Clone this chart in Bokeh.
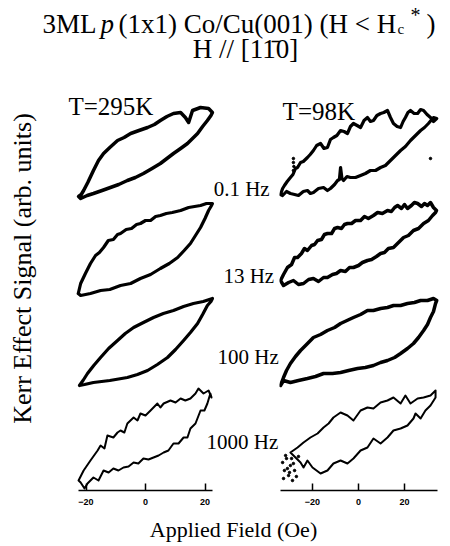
import math
from bokeh.plotting import figure
from bokeh.models import Range1d, FixedTicker, Label
from bokeh.layouts import column, row
from bokeh.embed import file_html
from bokeh.resources import INLINE

# ---------------- data (H in Oe, signal in arb. units, relative to each loop's row) -------------
TICKS = [-20, 0, 20]
FREQS = ["0.1 Hz", "13 Hz", "100 Hz", "1000 Hz"]
ROW_OFFSET = [33.5, 24.5, 15.0, 5.3]

# T = 295 K
L1_up_H = [-22.5,-21.6,-20.8,-19.4,-17.5,-15.8,-14.1,-12.0,-9.4,-7.2,-5.0,-2.2,0.7,3.0,5.0,7.2,9.4,11.8,13.4,14.5,15.8,18.5,21.2,22.5]
L1_up_M = [-4.1,-3.9,-3.5,-2.7,-1.5,-0.5,0.2,0.8,1.5,1.8,2.2,2.5,2.8,3.1,3.5,3.9,4.2,4.3,3.8,3.3,4.5,4.8,4.7,4.3]
L1_dn_H = [-22.5,-21.8,-19.6,-17.5,-14.6,-11.8,-9.0,-6.1,-3.4,-0.7,2.2,5.0,7.2,9.4,11.8,14.1,15.8,17.5,19.2,20.8,22.0,22.5]
L1_dn_M = [-4.1,-4.3,-4.0,-3.8,-3.5,-3.2,-2.9,-2.5,-2.2,-1.8,-1.3,-0.8,-0.3,0.2,0.7,1.2,1.7,2.2,2.9,3.5,4.0,4.3]

L2_up_H = [-22.6,-21.8,-20.2,-18.5,-16.8,-15.5,-14.1,-12.5,-10.8,-9.4,-8.4,-6.5,-4.7,-3.0,-1.7,0.0,1.7,3.4,5.0,7.0,9.0,11.8,14.5,16.5,18.5,20.5,22.5]
L2_up_M = [-4.8,-3.8,-2.8,-1.8,-1.0,-0.7,-0.2,0.5,0.6,1.1,1.2,1.6,1.7,2.1,2.2,2.5,2.5,2.9,3.0,3.2,3.3,3.5,3.8,3.9,4.0,4.2,4.2]
L2_dn_H = [-22.6,-21.8,-18.5,-15.1,-12.0,-8.4,-5.0,-1.7,1.7,5.0,8.0,10.8,13.0,15.1,16.8,18.5,20.0,21.2,22.0,22.5]
L2_dn_M = [-4.8,-5.0,-4.8,-4.5,-4.4,-4.0,-3.8,-3.3,-2.9,-2.3,-1.8,-1.2,-0.5,0.2,1.0,1.8,2.7,3.5,3.9,4.2]

L3_up_H = [-22.2,-21.0,-19.5,-17.4,-15.1,-12.4,-9.4,-6.8,-4.0,-0.7,2.7,6.0,9.4,12.8,16.1,19.4,22.5]
L3_up_M = [-4.5,-4.0,-3.3,-2.5,-1.7,-0.8,0.0,0.7,1.3,1.8,2.3,2.7,3.0,3.4,3.7,3.9,4.2]
L3_dn_H = [-22.2,-20.5,-17.5,-12.0,-6.1,-2.7,0.7,4.0,7.4,10.1,12.8,15.1,17.5,19.2,20.8,22.0,22.5]
L3_dn_M = [-4.5,-4.4,-4.2,-4.0,-3.7,-3.4,-3.0,-2.4,-1.7,-0.9,0.0,0.8,1.7,2.6,3.5,3.9,4.2]

L4_up_H = [-22.5,-20.8,-18.5,-16.1,-15.1,-13.8,-12.8,-10.8,-9.4,-8.4,-7.1,-6.1,-4.0,-2.7,-1.7,0.0,1.7,4.0,5.0,6.1,8.4,10.1,11.8,13.4,15.1,16.8,17.8,19.5,21.2,22.2]
L4_up_M = [-4.3,-3.3,-2.3,-1.3,-0.8,-1.1,0.2,0.0,0.5,0.7,0.5,1.4,2.0,1.7,2.4,2.2,2.7,3.4,3.0,3.4,3.7,3.5,3.9,3.7,3.9,4.4,4.9,4.4,4.7,4.0]
L4_dn_H = [-21.8,-20.5,-19.5,-17.5,-15.8,-14.1,-12.4,-10.8,-9.1,-7.4,-5.7,-4.0,-2.4,-0.7,1.0,2.7,4.4,6.1,7.7,9.4,11.1,12.8,14.1,15.1,16.8,18.5,19.8,20.8,21.8]
L4_dn_M = [-4.5,-5.1,-4.6,-4.0,-4.3,-3.3,-3.5,-3.1,-3.3,-3.0,-2.9,-2.5,-2.6,-2.1,-2.2,-2.0,-1.8,-1.5,-1.3,-0.6,-0.6,0.0,0.0,0.9,1.4,2.7,2.7,3.4,4.4]

# T = 98 K
R1_up_H = [-33.9,-33.0,-32.2,-31.0,-29.6,-28.5,-27.4,-26.5,-25.2,-24.0,-22.2,-21.0,-19.6,-18.2,-16.5,-15.0,-13.5,-12.2,-10.9,-9.4,-7.8,-6.3,-4.8,-3.5,-2.2,-0.6,0.9,2.4,3.9,5.2,6.5,8.0,9.6,11.0,12.6,13.9,15.2,16.8,18.3,19.4,20.4,21.5,22.6,24.2,25.7,27.0,28.3,29.8,31.3,32.6,34.0]
R1_up_M = [-3.9,-3.3,-3.0,-2.6,-2.2,-1.9,-1.3,-1.2,-0.7,-0.6,-0.2,0.1,0.5,1.0,1.2,0.7,0.8,1.6,1.8,2.0,2.5,2.4,2.2,2.9,3.2,3.0,2.8,3.5,3.8,3.4,3.5,4.0,4.2,4.3,4.5,3.8,3.2,2.9,2.8,3.4,3.8,4.3,4.5,4.2,4.2,4.6,4.5,4.1,3.8,3.4,3.7]
R1_dn_H = [-33.9,-33.0,-31.3,-29.6,-27.8,-26.1,-24.0,-22.2,-20.9,-19.6,-17.4,-15.2,-13.5,-12.2,-10.4,-9.1,-8.3,-7.8,-7.2,-6.5,-5.0,-3.5,-1.3,0.9,3.0,5.2,7.4,9.6,11.7,13.9,16.1,18.3,20.4,22.6,24.8,27.0,28.7,30.4,32.6,34.0]
R1_dn_M = [-3.9,-4.0,-3.6,-3.8,-3.9,-4.0,-3.6,-3.5,-3.8,-3.7,-3.3,-3.2,-3.5,-3.3,-2.9,-2.5,-2.4,-1.2,-2.3,-2.5,-2.1,-2.2,-2.2,-2.0,-1.8,-1.5,-1.5,-1.2,-1.0,-0.5,0.0,0.5,0.9,1.5,2.0,2.5,2.8,3.2,3.8,3.7]
R1_pts_H = [-28.3,-28.3,-28.1,-28.3,31.3]
R1_pts_M = [-0.3,-0.7,-1.1,-1.5,-0.3]

R2_up_H = [-33.9,-32.6,-30.9,-29.1,-27.8,-26.5,-24.8,-23.5,-22.2,-20.4,-19.1,-17.8,-16.1,-14.8,-13.5,-11.7,-10.4,-9.1,-7.4,-6.1,-4.8,-3.0,-1.3,0.9,2.6,4.3,6.5,8.3,10.4,12.6,14.3,15.7,17.0,18.7,20.0,21.3,23.0,24.3,25.7,27.4,28.7,30.0,31.3,32.6,33.9]
R2_up_M = [-3.5,-2.9,-2.2,-1.9,-1.2,-1.2,-0.8,-0.3,-0.5,0.0,0.1,0.5,0.6,1.1,1.2,1.2,1.7,1.8,1.7,2.1,2.2,2.2,2.5,2.5,2.9,2.7,3.0,3.3,3.2,3.5,3.4,3.8,4.0,3.7,4.1,3.7,4.0,4.3,4.2,3.9,4.2,4.0,4.3,3.8,3.5]
R2_dn_H = [-33.9,-32.6,-30.4,-28.3,-26.1,-23.9,-21.7,-19.6,-17.4,-15.2,-13.5,-11.3,-9.6,-7.8,-5.7,-3.9,-2.2,0.0,1.7,3.9,5.7,7.8,9.6,11.3,13.0,15.2,17.4,19.6,21.7,23.9,26.1,28.3,30.4,32.2,33.5,33.9]
R2_dn_M = [-3.5,-4.0,-3.7,-3.5,-3.9,-3.8,-3.4,-3.3,-3.6,-3.2,-3.2,-2.9,-2.8,-2.5,-2.6,-2.2,-2.2,-2.0,-1.7,-1.5,-1.4,-1.1,-0.8,-0.7,-0.3,-0.2,0.3,0.8,1.0,1.5,1.7,2.2,2.5,3.0,3.3,3.5]

R3_up_H = [-33.9,-32.6,-31.3,-29.6,-27.4,-25.2,-22.6,-19.6,-16.5,-13.5,-10.4,-7.8,-5.0,-2.2,0.9,3.9,6.5,9.6,12.6,15.2,18.3,21.3,24.3,27.0,30.0,32.6,34.0]
R3_up_M = [-4.5,-3.7,-3.0,-2.3,-1.6,-1.0,-0.4,0.3,0.6,1.0,1.3,1.7,2.0,2.3,2.6,3.0,3.0,3.2,3.3,3.5,3.5,3.7,3.8,4.0,4.0,4.2,4.0]
R3_dn_H = [-33.9,-32.6,-29.6,-26.1,-22.2,-18.7,-15.2,-11.3,-7.8,-4.3,-0.4,3.0,6.5,9.6,12.6,15.7,18.3,21.3,23.9,26.1,28.3,30.0,31.3,32.6,33.5,34.0]
R3_dn_M = [-4.5,-4.0,-4.2,-4.0,-3.8,-3.6,-3.3,-3.3,-3.2,-3.0,-2.8,-2.7,-2.5,-2.2,-2.0,-1.7,-1.3,-0.8,-0.3,0.3,1.0,1.6,2.3,2.9,3.7,4.0]

R4_up_H = [-29.6,-26.5,-23.9,-20.9,-17.8,-15.2,-13.0,-10.9,-7.8,-4.8,-2.2,0.9,3.9,6.5,9.6,12.6,15.2,18.3,20.4,22.6,25.7,28.3,31.3,33.5]
R4_up_M = [-1.5,-1.0,-0.5,0.0,0.4,1.0,1.4,2.0,2.5,2.2,1.7,2.7,3.0,2.9,3.5,3.7,4.0,3.4,4.2,3.4,3.9,4.0,4.2,4.7]
R4_dn_H = [-25.2,-23.9,-22.2,-20.0,-16.5,-13.5,-10.9,-7.8,-4.8,-2.2,0.9,3.9,6.5,9.6,12.6,15.2,18.3,21.3,23.9,24.8,27.0,29.1,31.3,33.5]
R4_dn_M = [-2.5,-3.0,-2.3,-3.0,-3.6,-3.3,-2.6,-2.3,-2.6,-2.1,-1.3,-1.0,-0.1,-0.6,0.0,0.7,0.9,1.2,1.9,2.4,1.9,2.7,3.2,4.0]
R4_pts_H = [-33.0,-32.2,-31.3,-30.4,-29.6,-28.7,-32.6,-30.9,-27.8,-27.0,-31.7,-29.1,-30.0,-28.3,-26.1]
R4_pts_M = [-2.5,-3.3,-2.1,-3.8,-2.8,-4.3,-4.1,-3.1,-3.3,-3.9,-1.8,-2.1,-3.5,-2.6,-1.9]

# ---------------- styling / layout ----------------
SERIF = "Liberation Serif"
PANEL_H = 430
Y_RANGE = (0, 40.8)


def panel(width, xr, bounds):
    p = figure(width=width, height=PANEL_H, x_range=Range1d(*xr), y_range=Range1d(*Y_RANGE),
               output_backend="svg", toolbar_location=None, y_axis_location=None,
               min_border_left=0, min_border_right=0, min_border_top=2, min_border_bottom=20)
    p.grid.visible = False
    p.outline_line_color = None
    ax = p.xaxis[0]
    ax.ticker = FixedTicker(ticks=TICKS)
    ax.bounds = bounds
    ax.major_tick_in = 7
    ax.major_tick_out = 0
    ax.minor_tick_in = 0
    ax.minor_tick_out = 0
    ax.axis_line_width = 1.5
    ax.major_tick_line_width = 1.5
    ax.major_label_text_font = "Liberation Sans"
    ax.major_label_text_font_style = "bold"
    ax.major_label_text_font_size = "9px"
    ax.major_label_standoff = 8
    ax.major_label_text_color = "black"
    return p


def draw_loop(p, hu, mu, hd, md, off, lw):
    xs = list(hu) + list(reversed(hd)) + [hu[0]]
    ys = [m + off for m in mu] + [m + off for m in reversed(md)] + [mu[0] + off]
    p.line(xs, ys, line_color="black", line_width=lw, line_join="round", line_cap="round")


left = panel(279, (-48.74, 45.04), (-22.5, 22.5))
right = panel(171, (-34.35, 40.0), (-33.9, 34.3))

left_loops = [(L1_up_H, L1_up_M, L1_dn_H, L1_dn_M, 3.5),
              (L2_up_H, L2_up_M, L2_dn_H, L2_dn_M, 3.2),
              (L3_up_H, L3_up_M, L3_dn_H, L3_dn_M, 3.2),
              (L4_up_H, L4_up_M, L4_dn_H, L4_dn_M, 2.0)]
right_loops = [(R1_up_H, R1_up_M, R1_dn_H, R1_dn_M, 3.2),
               (R2_up_H, R2_up_M, R2_dn_H, R2_dn_M, 3.5),
               (R3_up_H, R3_up_M, R3_dn_H, R3_dn_M, 3.5),
               (R4_up_H, R4_up_M, R4_dn_H, R4_dn_M, 2.0)]
for i, (hu, mu, hd, md, lw) in enumerate(left_loops):
    draw_loop(left, hu, mu, hd, md, ROW_OFFSET[i], lw)
for i, (hu, mu, hd, md, lw) in enumerate(right_loops):
    draw_loop(right, hu, mu, hd, md, ROW_OFFSET[i], lw)

right.scatter(R1_pts_H, [m + ROW_OFFSET[0] for m in R1_pts_M], size=2.5, color="black")
right.scatter(R4_pts_H, [m + ROW_OFFSET[3] for m in R4_pts_M], size=2.5, color="black")

# panel texts
left.add_layout(Label(x=-41.3, y=22.2, text="Kerr Effect Signal (arb. units)", angle=math.pi / 2,
                     text_align="center", text_baseline="middle", text_font=SERIF,
                     text_font_size="26px", text_color="black"))
left.add_layout(Label(x=-25.9, y=38.4, text="T=295K", text_font=SERIF, text_font_size="25px",
                      text_baseline="alphabetic", text_color="black"))
right.add_layout(Label(x=-33.0, y=37.9, text="T=98K", text_font=SERIF, text_font_size="25px",
                       text_baseline="alphabetic", text_color="black"))
freq_x = [22.9, 26.2, 24.2, 20.5]
freq_y = [30.2, 21.5, 13.4, 4.9]
for fx, fy, ft in zip(freq_x, freq_y, FREQS):
    left.add_layout(Label(x=fx, y=fy, text=ft, text_font=SERIF, text_font_size="21px",
                          text_baseline="alphabetic", text_color="black"))

# title figure (coordinates in pixels of this strip, y up)
top = figure(width=450, height=80, x_range=Range1d(0, 450), y_range=Range1d(0, 80),
             output_backend="svg", toolbar_location=None, x_axis_location=None,
             y_axis_location=None, min_border=0)
top.grid.visible = False
top.outline_line_color = None
title_parts = [
    (42, 57, "3ML", "27px", "normal"),
    (100, 57, "p", "27px", "italic"),
    (118, 57, "(1x1) Co/Cu(001) (H < H", "27px", "normal"),
    (397, 52, "c", "15px", "normal"),
    (410, 66, "*", "20px", "normal"),
    (426, 57, ")", "27px", "normal"),
]
for tx, ty, tt, fs, st in title_parts:
    top.add_layout(Label(x=tx, y=ty, text=tt, text_font=SERIF, text_font_size=fs,
                         text_font_style=st, text_baseline="alphabetic", text_color="black"))
top.add_layout(Label(x=245, y=32, text="H // [1" + "1\u0304" + "0]", text_font=SERIF,
                     text_font_size="27px", text_align="center", text_baseline="alphabetic",
                     text_color="black"))

# x-label strip
bot = figure(width=450, height=35, x_range=Range1d(0, 450), y_range=Range1d(0, 35),
             output_backend="svg", toolbar_location=None, x_axis_location=None,
             y_axis_location=None, min_border=0)
bot.grid.visible = False
bot.outline_line_color = None
bot.add_layout(Label(x=233, y=16, text="Applied Field (Oe)", text_font=SERIF, text_font_size="22px",
                     text_align="center", text_baseline="alphabetic", text_color="black"))

layout = column(top, row(left, right), bot)
open("out.html", "w").write(file_html(layout, INLINE))
